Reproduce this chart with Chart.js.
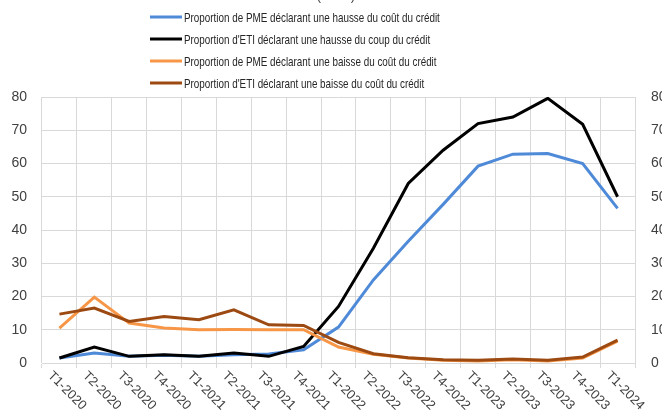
<!DOCTYPE html>
<html>
<head>
<meta charset="utf-8">
<script src="https://cdn.jsdelivr.net/npm/chart.js@4.4.1/dist/chart.umd.min.js"></script>
<style>
  html, body { margin: 0; padding: 0; background: #fff; overflow: hidden; }
  #wrap { width: 672px; height: 426px; margin-top: -10px; }
</style>
</head>
<body>
<div id="wrap"><canvas id="myChart" width="672" height="426"></canvas></div>
<script>
// trimestres
const labels = ["T1-2020", "T2-2020", "T3-2020", "T4-2020", "T1-2021", "T2-2021", "T3-2021", "T4-2021",
  "T1-2022", "T2-2022", "T3-2022", "T4-2022", "T1-2023", "T2-2023", "T3-2023", "T4-2023", "T1-2024"];

const pmeHausse = [1.5, 3, 2, 2.3, 2, 2.5, 2.7, 4, 10.8, 25, 36.6, 47.7, 59.2, 62.8, 63, 60, 46.5];
const etiHausse = [1.5, 4.8, 2, 2.5, 2, 3, 2, 5, 17, 34.5, 54, 64, 72, 74, 79.6, 71.8, 50];
const pmeBaisse = [10.5, 19.8, 12, 10.5, 10, 10.1, 10, 10, 4.8, 2.6, 1.5, 0.8, 0.6, 1, 0.6, 1.5, 6.6];
const etiBaisse = [14.7, 16.5, 12.5, 14, 13, 16, 11.5, 11.3, 6.2, 2.8, 1.6, 1, 0.8, 1.2, 0.8, 1.8, 6.9];

const seriesNames = [
  "Proportion de PME déclarant une hausse du coût du crédit",
  "Proportion d'ETI déclarant une hausse du coup du crédit",
  "Proportion de PME déclarant une baisse du coût du crédit",
  "Proportion d'ETI déclarant une baisse du coût du crédit",
];
const titleText = "(en %)";
const yTicks = [0, 10, 20, 30, 40, 50, 60, 70, 80];

const colors = ["#4f8ad8", "#000000", "#f79646", "#9c4a12"];
const font = "'Liberation Sans', sans-serif";

// legende + titre + etiquettes x dessinés à la main (style Excel)
const excelBits = {
  id: "excelBits",
  afterDraw(chart) {
    const ctx = chart.ctx;
    ctx.save();
    ctx.fillStyle = "#404040";
    ctx.font = "13px " + font;
    ctx.textAlign = "center";
    ctx.textBaseline = "middle";
    ctx.fillText(titleText, 336, 6);

    ctx.textAlign = "left";
    for (let i = 0; i < seriesNames.length; i++) {
      const y = 27 + i * 22;
      ctx.strokeStyle = colors[i];
      ctx.lineWidth = 3;
      ctx.beginPath();
      ctx.moveTo(150, y);
      ctx.lineTo(182, y);
      ctx.stroke();
      // texte un peu condensé, genre Calibri
      ctx.save();
      ctx.translate(184, y + 1);
      ctx.scale(0.73, 1);
      ctx.fillStyle = "#262626";
      ctx.font = "13.5px " + font;
      ctx.fillText(seriesNames[i], 0, 0);
      ctx.restore();
    }

    const xs = chart.scales.x;
    ctx.fillStyle = "#404040";
    ctx.font = "13px " + font;
    ctx.textBaseline = "top";
    for (let i = 0; i < labels.length; i++) {
      const px = xs.getPixelForValue(i);
      ctx.save();
      ctx.translate(px - 5, chart.chartArea.bottom + 6);
      ctx.rotate(Math.PI / 4);
      ctx.fillText(labels[i], 0, 0);
      ctx.restore();
    }
    ctx.restore();
  },
};

const ds = [pmeHausse, etiHausse, pmeBaisse, etiBaisse].map((d, i) => ({
  label: seriesNames[i],
  data: d,
  borderColor: colors[i],
  backgroundColor: colors[i],
  borderWidth: 3,
  pointRadius: 0,
  tension: 0,
  order: 4 - i,
  yAxisID: "y",
}));

const ctx = document.getElementById("myChart");
const myChart = new Chart(ctx, {
  type: "line",
  data: { labels: labels, datasets: ds },
  plugins: [excelBits],
  options: {
    responsive: false,
    animation: false,
    layout: { padding: { top: 107, left: 0, right: 0, bottom: 0 } },
    plugins: { legend: { display: false }, title: { display: false }, tooltip: { enabled: false } },
    scales: {
      x: {
        offset: true,
        grid: { offset: true, color: "#d9d9d9", tickLength: 5, drawTicks: true },
        border: { color: "#d9d9d9" },
        ticks: { display: false, autoSkip: false },
        afterFit(scale) { scale.height = 53; },
      },
      y: {
        position: "left",
        min: 0,
        max: 80,
        afterBuildTicks(scale) { scale.ticks = yTicks.map((v) => ({ value: v })); },
        grid: { color: "#d9d9d9", drawTicks: false },
        border: { display: false },
        ticks: { color: "#404040", font: { family: font, size: 14 }, padding: 15 },
        afterFit(scale) { scale.width = 42; },
      },
      y2: {
        position: "right",
        min: 0,
        max: 80,
        afterBuildTicks(scale) { scale.ticks = yTicks.map((v) => ({ value: v })); },
        grid: { display: false, drawTicks: false },
        border: { display: false },
        ticks: { color: "#404040", font: { family: font, size: 14 }, padding: 16 },
        afterFit(scale) { scale.width = 37; },
      },
    },
  },
});
</script>
</body>
</html>
